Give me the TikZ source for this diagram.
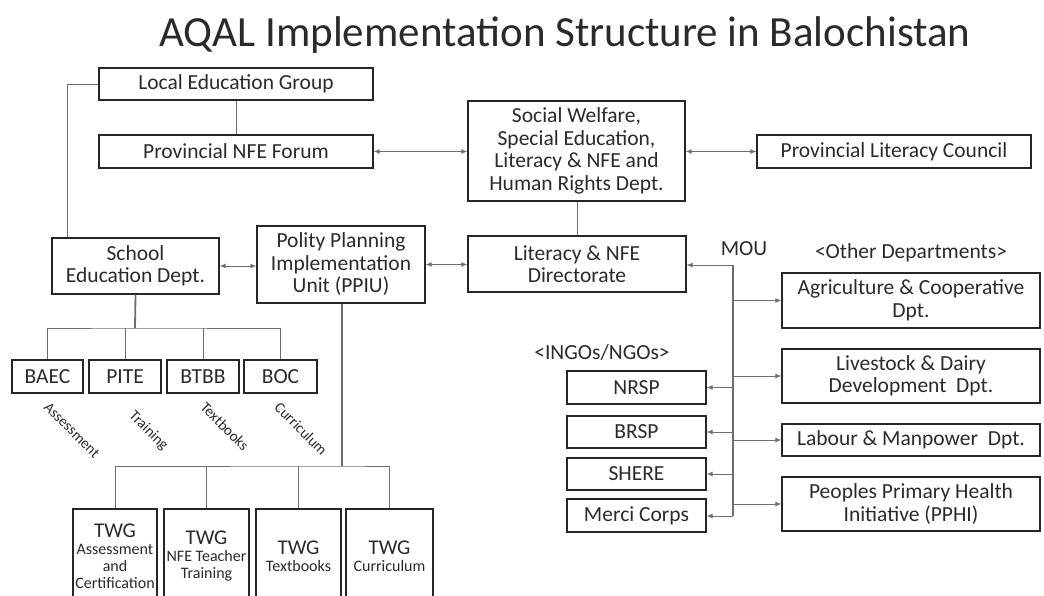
\documentclass[tikz,border=0pt]{standalone}
\usepackage{fontspec}
\setmainfont{Carlito}
\usetikzlibrary{arrows.meta,calc}
\definecolor{boxc}{HTML}{262626}
\definecolor{linec}{HTML}{6E6E6E}
\definecolor{txt}{HTML}{2A2A2A}
\newcommand{\twgt}{\fontsize{21}{17}\selectfont TWG}
\begin{document}
\begin{tikzpicture}[x=1pt,y=-1pt,
  box/.style={draw=boxc, line width=1.3pt, inner sep=0pt, align=center, text=txt, font=\fontsize{21.5}{22.5}\selectfont},
  twgbox/.style={box, font=\fontsize{16}{17}\selectfont},
  conn/.style={draw=linec, line width=0.9pt},
  trunk/.style={draw=linec, line width=1.8pt},
  tip/.tip={Latex[length=6pt,width=5pt]},
  both/.style={conn, tip-tip},
  toarr/.style={conn, -tip},
  lbl/.style={text=txt, inner sep=0pt, font=\fontsize{21.5}{22}\selectfont},
  rot/.style={text=txt, inner sep=0pt, font=\fontsize{15}{16}\selectfont, rotate=-45, anchor=north west}
]
\useasboundingbox (0,0) rectangle (1044,595);
\clip (0,0) rectangle (1044,595);

% title
\node[text=txt, inner sep=0pt, font=\fontsize{43}{46}\selectfont] (title) at (565,35) {AQAL Implementation Structure in Balochistan};

% top boxes
\node[box, minimum width=274pt, minimum height=32pt] (leg) at (236,84) {Local Education Group};
\node[box, minimum width=274pt, minimum height=33pt] (pnf) at (236,151.5) {Provincial NFE Forum};
\node[box, minimum width=217pt, minimum height=100pt] (sw) at (576.5,151) {Social Welfare,\\Special Education,\\Literacy \& NFE and\\Human Rights Dept.};
\node[box, minimum width=274pt, minimum height=33pt] (plc) at (894,151.5) {Provincial Literacy Council};

% middle row
\node[box, minimum width=218pt, minimum height=56pt] (dir) at (577,264) {Literacy \& NFE\\Directorate};
\node[box, minimum width=167pt, minimum height=56pt] (sed) at (135.5,266) {School\\Education Dept.};
\node[box, minimum width=168pt, minimum height=77pt] (ppiu) at (341,264.5) {Polity Planning\\Implementation\\Unit (PPIU)};

% school sub-boxes
\node[box, minimum width=71pt, minimum height=33pt] (baec) at (47.5,376.5) {BAEC};
\node[box, minimum width=72pt, minimum height=33pt] (pite) at (125,376.5) {PITE};
\node[box, minimum width=72pt, minimum height=33pt] (btbb) at (203,376.5) {BTBB};
\node[box, minimum width=73pt, minimum height=33pt] (boc) at (280.5,376.5) {BOC};

\node[rot] (la) at (50,401) {Assessment};
\node[rot] (lt) at (136,409) {Training};
\node[rot] (lx) at (207,401) {Textbooks};
\node[rot] (lc) at (281,401) {Curriculum};

% TWG boxes
\node[twgbox, minimum width=84pt, minimum height=94pt] (twa) at (115,556) {\twgt\\[0pt]Assessment\\and\\Certification};
\node[twgbox, minimum width=85pt, minimum height=94pt] (twb) at (206.5,556) {\twgt\\[0pt]NFE Teacher\\Training};
\node[twgbox, minimum width=85pt, minimum height=94pt] (twc) at (298.5,556) {\twgt\\[0pt]Textbooks};
\node[twgbox, minimum width=87pt, minimum height=94pt] (twd) at (389.5,556) {\twgt\\[0pt]Curriculum};

% right: other departments
\node[lbl] (mou) at (744,249) {MOU};
\node[lbl] (othl) at (911,253) {<Other Departments>};
\node[box, minimum width=258pt, minimum height=55pt] (agri) at (911,300.5) {Agriculture \& Cooperative\\Dpt.};
\node[box, minimum width=258pt, minimum height=54pt] (live) at (911,376) {Livestock \& Dairy\\Development\ \ Dpt.};
\node[box, minimum width=258pt, minimum height=32pt] (lab) at (911,440) {Labour \& Manpower\ \ Dpt.};
\node[box, minimum width=258pt, minimum height=54pt] (pphi) at (911,504) {Peoples Primary Health\\Initiative (PPHI)};

% INGOs
\node[lbl] (ingl) at (602,352) {<INGOs/NGOs>};
\node[box, minimum width=139pt, minimum height=33pt] (nrsp) at (636.5,387.5) {NRSP};
\node[box, minimum width=139pt, minimum height=32pt] (brsp) at (636.5,432) {BRSP};
\node[box, minimum width=139pt, minimum height=32pt] (shere) at (636.5,474) {SHERE};
\node[box, minimum width=139pt, minimum height=33pt] (merci) at (636.5,515.5) {Merci Corps};

\coordinate (mtop) at (733,265);
\coordinate (mbot) at (733,516);
\coordinate (sbus) at (135,328);
\coordinate (tbus) at (342,466);

% connectors top
\draw[conn] (leg.south) -- (pnf.north);
\draw[conn] (leg.west) -| ([xshift=16pt]sed.north west);
\draw[both] (pnf.east) -- (pnf.east -| sw.west);
\draw[both] (sw.east |- plc.west) -- (plc.west);
\draw[conn] (sw.south -| dir.north) -- (dir.north);
\draw[both] (sed.east) -- (sed.east -| ppiu.west);
\draw[both] (ppiu.east) -- (ppiu.east -| dir.west);

% school bus
\draw[trunk] (sed.south) -- (sbus);
\draw[conn] (baec.north) |- (sbus) -| (boc.north);
\draw[conn] (pite.north) -- (pite.north |- sbus);
\draw[conn] (btbb.north) -- (btbb.north |- sbus);

% PPIU bus
\draw[trunk] (ppiu.south -| tbus) -- (tbus);
\draw[conn] (twa.north) |- (tbus) -| (twd.north);
\draw[conn] (twb.north) -- (twb.north |- tbus);
\draw[conn] (twc.north) -- (twc.north |- tbus);

% MOU trunk
\draw[toarr] (mtop) -- (mtop -| dir.east);
\draw[trunk, line width=1.3pt] (mtop) -- (mbot);
\draw[toarr] (mtop |- agri.west) -- (agri.west);
\draw[toarr] (mtop |- live.west) -- (live.west);
\draw[toarr] (mtop |- lab.west) -- (lab.west);
\draw[toarr] (mtop |- pphi.west) -- (pphi.west);
\draw[toarr] (mtop |- nrsp.east) -- (nrsp.east);
\draw[toarr] (mtop |- brsp.east) -- (brsp.east);
\draw[toarr] (mtop |- shere.east) -- (shere.east);
\draw[toarr] (mbot) -- (mbot -| merci.east);
\end{tikzpicture}
\end{document}
